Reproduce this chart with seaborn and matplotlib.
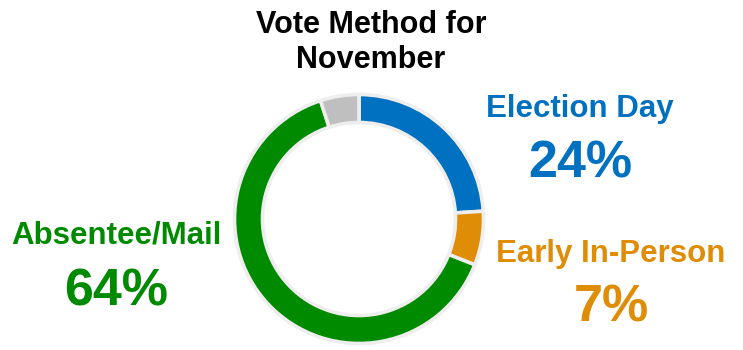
import matplotlib
matplotlib.use("Agg")
import matplotlib.pyplot as plt
import seaborn as sns

sns.set_theme(style="white")
plt.rcParams['font.family'] = ['Liberation Sans', 'DejaVu Sans']

categories = ["Election Day", "Early In-Person", "Absentee/Mail", "Other"]
values = [24, 7, 64, 5]
pct_labels = ["24%", "7%", "64%", ""]
colors = ["#0070C0", "#DF8C06", "#008A00", "#BFBFBF"]
title = "Vote Method for\nNovember"

W, H = 743, 350
fig = plt.figure(figsize=(W / 100, H / 100), dpi=100)
ax = fig.add_axes([0, 0, 1, 1])

cx, cy = 359, H - 219
ax.pie(values, colors=colors, startangle=90, counterclock=False,
       radius=124.5, center=(cx, cy),
       wedgeprops=dict(width=28, edgecolor="#EEEEEE", linewidth=2.6))
ax.set_xlim(0, W)
ax.set_ylim(0, H)
ax.set_aspect("equal")
ax.axis("off")

def put(x, y_img, s, size, color):
    ax.text(x, H - y_img, s, ha="center", va="baseline", fontsize=size,
            fontweight="bold", color=color)

put(371, 33, "Vote Method for", 22, "black")
put(371, 68, "November", 22, "black")

label_pos = {
    "Election Day": (580, 117, 178),
    "Early In-Person": (611, 262, 322),
    "Absentee/Mail": (116, 243, 305),
}
for cat, pct, col in zip(categories, pct_labels, colors):
    if cat in label_pos:
        x, y1, y2 = label_pos[cat]
        put(x, y1, cat, 22.5, col)
        put(x, y2, pct, 37.5, col)

fig.savefig("out.png", dpi=100)
